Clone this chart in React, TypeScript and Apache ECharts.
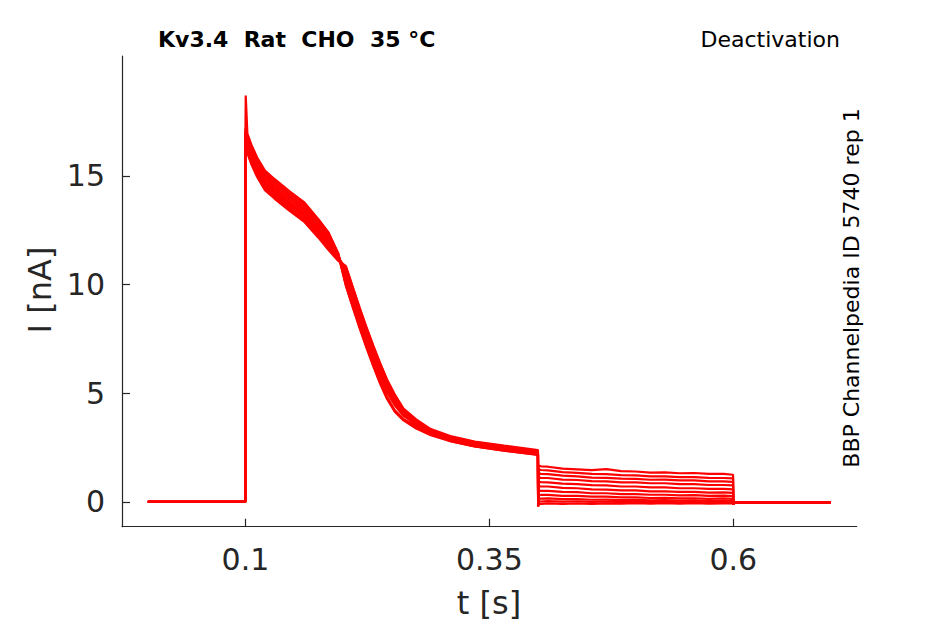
import React, { useEffect, useRef } from "react";
import * as echarts from "echarts";

// time grids (s)
const tPre = [0, 0.0998];
const preValues = [0, 0];
const tAct = [0.1, 0.1003, 0.102, 0.106, 0.112, 0.12, 0.13, 0.145, 0.16, 0.175, 0.185, 0.195, 0.203, 0.21, 0.217, 0.224, 0.231, 0.238, 0.245, 0.253, 0.262, 0.275, 0.29, 0.31, 0.335, 0.365, 0.3998];
const tTail = [0.4, 0.4004, 0.403, 0.41, 0.425, 0.44, 0.455, 0.47, 0.485, 0.5, 0.515, 0.53, 0.545, 0.56, 0.575, 0.59, 0.5998];
const tPost = [0.6, 0.6004, 0.61, 0.7];
const postValues = [-0.12, -0.03, -0.03, -0.03];

// current (nA), activation part per sweep
const actA = [16.9, 18.7, 16.95, 16.45, 15.85, 15.25, 14.85, 14.3, 13.8, 13.0, 12.4, 11.45, 9.95, 8.95, 8.0, 7.1, 6.25, 5.45, 4.75, 4.15, 3.75, 3.38, 3.07, 2.8, 2.55, 2.36, 2.17];
const actB = [16.85, 17.2, 16.85, 16.35, 15.75, 15.15, 14.75, 14.2, 13.7, 12.95, 12.4, 11.45, 10.05, 9.1, 8.15, 7.25, 6.4, 5.6, 4.85, 4.22, 3.8, 3.42, 3.1, 2.83, 2.58, 2.4, 2.2];
const actC = [16.8, 17.1, 16.75, 16.25, 15.65, 15.05, 14.65, 14.1, 13.6, 12.85, 12.3, 11.4, 9.95, 9.0, 8.05, 7.15, 6.3, 5.5, 4.8, 4.2, 3.8, 3.5, 3.2, 2.93, 2.68, 2.49, 2.28];
const actD = [16.7, 17.05, 16.65, 16.15, 15.55, 14.95, 14.55, 14.0, 13.5, 12.75, 12.2, 11.4, 10.25, 9.3, 8.35, 7.45, 6.6, 5.8, 5.05, 4.45, 3.95, 3.6, 3.25, 2.98, 2.72, 2.52, 2.3];
const actE = [16.65, 16.95, 16.55, 16.05, 15.45, 14.85, 14.45, 13.9, 13.4, 12.65, 12.1, 11.35, 10.45, 9.5, 8.55, 7.65, 6.8, 6.0, 5.25, 4.6, 4.05, 3.57, 3.2, 2.88, 2.63, 2.44, 2.24];
const actF = [16.6, 16.9, 16.45, 15.95, 15.35, 14.75, 14.35, 13.8, 13.3, 12.55, 12.0, 11.3, 10.4, 9.45, 8.5, 7.6, 6.75, 5.95, 5.2, 4.55, 4.02, 3.52, 3.14, 2.83, 2.58, 2.39, 2.19];
const actG = [16.55, 16.8, 16.4, 15.9, 15.3, 14.68, 14.28, 13.72, 13.22, 12.48, 11.95, 11.3, 10.6, 9.65, 8.7, 7.8, 6.95, 6.15, 5.4, 4.7, 4.15, 3.65, 3.26, 2.96, 2.71, 2.52, 2.32];
const actH = [16.5, 16.75, 16.3, 15.8, 15.2, 14.6, 14.2, 13.65, 13.15, 12.4, 11.85, 11.25, 10.7, 9.75, 8.8, 7.9, 7.05, 6.25, 5.5, 4.8, 4.2, 3.72, 3.3, 3.0, 2.75, 2.56, 2.35];
const actI = [16.45, 16.7, 16.2, 15.7, 15.1, 14.5, 14.1, 13.55, 13.05, 12.3, 11.75, 11.2, 10.8, 9.85, 8.9, 8.0, 7.15, 6.35, 5.6, 4.9, 4.25, 3.7, 3.28, 2.93, 2.68, 2.49, 2.29];
const actJ = [16.4, 16.65, 16.12, 15.62, 15.02, 14.42, 14.02, 13.47, 12.97, 12.22, 11.67, 11.15, 10.65, 9.7, 8.75, 7.85, 7.0, 6.2, 5.45, 4.75, 4.15, 3.6, 3.15, 2.8, 2.55, 2.36, 2.16];
const actK = [16.35, 16.6, 16.05, 15.55, 14.95, 14.35, 13.95, 13.4, 12.9, 12.15, 11.6, 11.1, 10.85, 9.9, 8.95, 8.05, 7.2, 6.4, 5.65, 4.95, 4.3, 3.8, 3.35, 3.03, 2.78, 2.59, 2.39];

// current (nA), deactivation tail per sweep
const tailA = [-0.22, 1.68, 1.64, 1.62, 1.53, 1.5, 1.46, 1.51, 1.42, 1.4, 1.35, 1.36, 1.32, 1.33, 1.29, 1.29, 1.25];
const tailB = [-0.2, 1.5, 1.47, 1.45, 1.37, 1.34, 1.29, 1.28, 1.23, 1.22, 1.18, 1.18, 1.14, 1.14, 1.11, 1.1, 1.08];
const tailC = [-0.2, 1.31, 1.29, 1.28, 1.21, 1.18, 1.12, 1.11, 1.07, 1.06, 1.02, 1.03, 0.99, 0.99, 0.95, 0.95, 0.92];
const tailD = [-0.18, 1.13, 1.11, 1.1, 1.03, 1.01, 0.96, 0.95, 0.9, 0.9, 0.86, 0.86, 0.82, 0.82, 0.78, 0.78, 0.76];
const tailE = [-0.18, 0.93, 0.91, 0.9, 0.84, 0.82, 0.77, 0.76, 0.71, 0.71, 0.67, 0.67, 0.63, 0.63, 0.6, 0.6, 0.58];
const tailF = [-0.16, 0.73, 0.71, 0.71, 0.65, 0.63, 0.58, 0.57, 0.53, 0.53, 0.49, 0.49, 0.46, 0.46, 0.43, 0.44, 0.42];
const tailG = [-0.16, 0.53, 0.51, 0.51, 0.46, 0.45, 0.4, 0.4, 0.36, 0.36, 0.33, 0.33, 0.3, 0.31, 0.28, 0.29, 0.27];
const tailH = [-0.15, 0.34, 0.32, 0.32, 0.28, 0.28, 0.24, 0.24, 0.21, 0.21, 0.18, 0.19, 0.16, 0.17, 0.14, 0.16, 0.14];
const tailI = [-0.14, 0.17, 0.15, 0.16, 0.13, 0.13, 0.1, 0.11, 0.08, 0.09, 0.07, 0.08, 0.06, 0.07, 0.05, 0.06, 0.05];
const tailJ = [-0.13, 0.04, 0.02, 0.04, 0.01, 0.03, 0.0, 0.02, -0.01, 0.01, -0.01, 0.0, -0.02, 0.0, -0.03, -0.01, -0.02];
const tailK = [-0.2, -0.08, -0.09, -0.07, -0.09, -0.07, -0.09, -0.07, -0.08, -0.06, -0.08, -0.06, -0.08, -0.06, -0.08, -0.07, -0.07];

const sweeps = [
  [actA, tailA], [actB, tailB], [actC, tailC], [actD, tailD], [actE, tailE], [actF, tailF],
  [actG, tailG], [actH, tailH], [actI, tailI], [actJ, tailJ], [actK, tailK],
];

const xTicks = [0.1, 0.35, 0.6];
const yTicks = [0, 5, 10, 15];

const titleText = "Kv3.4  Rat  CHO  35 °C";
const protocolText = "Deactivation";
const sourceText = "BBP Channelpedia ID 5740 rep 1";
const xName = "t [s]";
const yName = "I [nA]";

const FONT = "DejaVu Sans";
const INK = "#262626";

function pairs(ts: number[], vs: number[]) {
  return ts.map((t, i) => [t, vs[i]]);
}

export default function App() {
  const ref = useRef<HTMLDivElement>(null);
  useEffect(() => {
    if (!ref.current) return;
    const chart = echarts.init(ref.current, undefined, { renderer: "svg" });
    const series = sweeps.map(([act, tail], i) => ({
      type: "line",
      name: "sweep" + (i + 1),
      data: [
        ...pairs(tPre, preValues),
        ...pairs(tAct, act),
        ...pairs(tTail, tail),
        ...pairs(tPost, postValues),
      ],
      showSymbol: false,
      symbol: "none",
      lineStyle: { color: "#ff0000", width: 2.2 },
      itemStyle: { color: "#ff0000" },
      silent: true,
    }));
    chart.setOption({
      animation: false,
      backgroundColor: "#ffffff",
      grid: { left: 122, top: 56, width: 734.7, height: 470.7, containLabel: false },
      xAxis: {
        type: "value",
        min: -0.0265,
        max: 0.7265,
        axisLine: { show: true, onZero: false, lineStyle: { color: INK, width: 1.2 } },
        axisTick: { show: true, inside: true, length: 8, lineStyle: { color: INK, width: 1.2 }, customValues: xTicks },
        axisLabel: { show: true, customValues: xTicks, fontSize: 30, color: INK, fontFamily: FONT, margin: 18, formatter: (v: number) => String(v) },
        splitLine: { show: false },
      },
      yAxis: {
        type: "value",
        min: -1.14,
        max: 20.52,
        axisLine: { show: true, onZero: false, lineStyle: { color: INK, width: 1.2 } },
        axisTick: { show: true, inside: true, length: 8, lineStyle: { color: INK, width: 1.2 }, customValues: yTicks },
        axisLabel: { show: true, customValues: yTicks, fontSize: 30, color: INK, fontFamily: FONT, margin: 17, formatter: (v: number) => String(v) },
        splitLine: { show: false },
      },
      graphic: [
        { type: "text", x: 158, y: 39, style: { text: titleText, font: `bold 22px "${FONT}"`, fill: "#000", textAlign: "left", textVerticalAlign: "middle" } },
        { type: "text", x: 840, y: 39, style: { text: protocolText, font: `22px "${FONT}"`, fill: "#000", textAlign: "right", textVerticalAlign: "middle" } },
        { type: "text", x: 851, y: 288, rotation: Math.PI / 2, style: { text: sourceText, font: `22px "${FONT}"`, fill: "#000", textAlign: "center", textVerticalAlign: "middle" } },
        { type: "text", x: 40, y: 290, rotation: Math.PI / 2, style: { text: yName, font: `32px "${FONT}"`, fill: INK, textAlign: "center", textVerticalAlign: "middle" } },
        { type: "text", x: 489, y: 603, style: { text: xName, font: `32px "${FONT}"`, fill: INK, textAlign: "center", textVerticalAlign: "middle" } },
      ],
      series,
    });
    return () => chart.dispose();
  }, []);
  return <div ref={ref} style={{ position: "fixed", left: 0, top: 0, width: 945, height: 624, background: "#fff" }} />;
}
